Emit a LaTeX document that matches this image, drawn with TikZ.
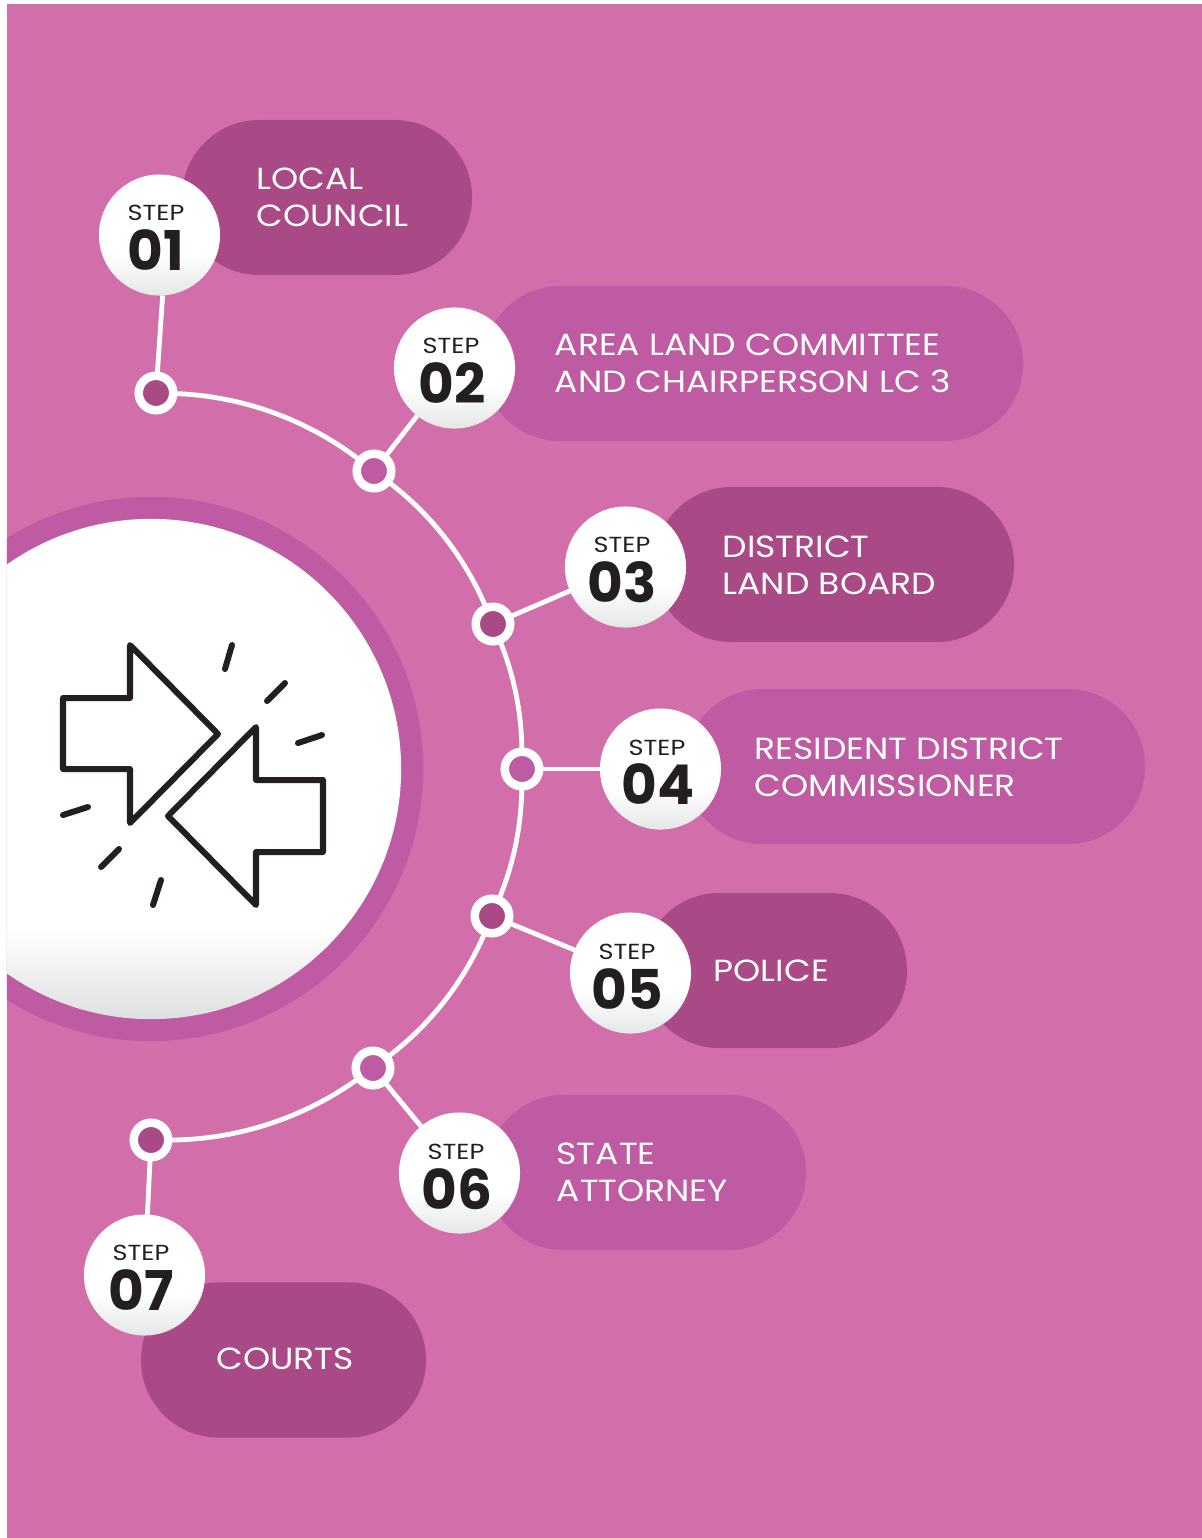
\documentclass[tikz,border=0pt]{standalone}
\usepackage{fontspec}
\setmainfont{Poppins}
\newfontfamily\pillfont{Poppins}[FakeStretch=1.13]
\newfontfamily\stepfont{Poppins}[FakeStretch=1.17]
\newfontfamily\numfont{Poppins Bold}
\usetikzlibrary{shadows}
\definecolor{fond}{HTML}{D26FAB}
\definecolor{sombre}{HTML}{A94986}
\definecolor{clair}{HTML}{BF5BA2}
\definecolor{encre}{HTML}{231F20}
\definecolor{voile}{HTML}{DEDFDF}
\definecolor{voilette}{HTML}{E5E6E6}
\pgfdeclareverticalshading{fadebig}{100bp}{color(0bp)=(voile); color(25bp)=(voile); color(34bp)=(white); color(100bp)=(white)}
\pgfdeclareverticalshading{fadeball}{100bp}{color(0bp)=(voilette); color(25bp)=(voilette); color(42bp)=(white); color(100bp)=(white)}
\tikzset{
    pill/.style={rounded corners=7.75mm,minimum height=1.55cm,inner sep=0pt},
    stepball/.style={circle,shading=fadeball,minimum size=1.21cm,inner sep=0pt,outer sep=0pt},
    steptitle/.style={text=encre,font=\stepfont\fontsize{6.2}{7}\selectfont,inner sep=0pt},
    stepnum/.style={text=encre,font=\numfont\fontsize{15.6}{17}\selectfont,inner sep=0pt},
    pilltext/.style={text=white,anchor=west,align=left,inner sep=0pt,font=\pillfont\fontsize{8.7}{10.5}\selectfont},
    dot/.style={circle,draw=white,line width=.85mm,minimum size=3.45mm,inner sep=0pt,outer sep=0pt,drop shadow={opacity=.18,shadow xshift=.4mm,shadow yshift=-.4mm}},
    link/.style={draw=white,line width=.48mm,looseness=.87},
    icon/.style={draw=encre,line width=.6mm,line join=round,line cap=round}
}
\begin{document}
\begin{tikzpicture}[x=.01cm,y=-.01cm]
    \useasboundingbox (0,0) rectangle (1202,1538);
    \fill[white] (0,0) rectangle (1202,1538);
    \fill[fond] (7,4) rectangle (1202,1538);
    \begin{scope}
        \clip (7,4) rectangle (1202,1538);
        \node[circle,fill=clair,minimum size=5.44cm,inner sep=0pt] (ring) at (151,769) {};
        \node[circle,shading=fadebig,minimum size=5cm,inner sep=0pt] (disc) at (151,769) {};
    \end{scope}
    \draw[icon] (63,698) -- (130,698) -- (130,645) -- (218,734) -- (130,823) -- (130,769) -- (63,769) -- cycle;
    \draw[icon] (323,780) -- (256,780) -- (256,727) -- (168,816) -- (256,905) -- (256,852) -- (323,852) -- cycle;
    \draw[icon] (232,645) -- (225,669);
    \draw[icon] (285,683) -- (267,701);
    \draw[icon] (322,735) -- (298,743);
    \draw[icon] (88,807) -- (63,815);
    \draw[icon] (119,849) -- (101,867);
    \draw[icon] (161,880) -- (153,905);

    \node[pill,fill=sombre,minimum width=2.9cm] (p1) at (327,197.5) {};
    \node[pill,fill=clair,minimum width=5.4cm] (p2) at (753,363.5) {};
    \node[pill,fill=sombre,minimum width=3.6cm] (p3) at (834,564.5) {};
    \node[pill,fill=clair,minimum width=4.6cm] (p4) at (915,766.5) {};
    \node[pill,fill=sombre,minimum width=2.65cm] (p5) at (774.5,970.5) {};
    \node[pill,fill=clair,minimum width=3.2cm] (p6) at (646,1172.5) {};
    \node[pill,fill=sombre,minimum width=2.85cm] (p7) at (283.5,1360) {};

    \node[pilltext] (l1) at (256,197) {LOCAL\\COUNCIL};
    \node[pilltext] (l2) at (554,363) {AREA LAND COMMITTEE\\AND CHAIRPERSON LC 3};
    \node[pilltext] (l3) at (722,565) {DISTRICT\\LAND BOARD};
    \node[pilltext] (l4) at (754,767) {RESIDENT DISTRICT\\COMMISSIONER};
    \node[pilltext] (l5) at (713,971) {POLICE};
    \node[pilltext] (l6) at (556,1172) {STATE\\ATTORNEY};
    \node[pilltext] (l7) at (216,1359) {COURTS};

    \node[dot,fill=sombre] (d1) at (156,393) {};
    \node[dot,fill=clair] (d2) at (374,471) {};
    \node[dot,fill=sombre] (d3) at (493,624) {};
    \node[dot,fill=clair] (d4) at (522,769) {};
    \node[dot,fill=sombre] (d5) at (492,916) {};
    \node[dot,fill=clair] (d6) at (373,1068) {};
    \node[dot,fill=sombre] (d7) at (151,1140) {};

    \node[stepball] (s1) at (159.5,235) {};
    \node[stepball] (s2) at (454.5,368) {};
    \node[stepball] (s3) at (625.5,567) {};
    \node[stepball] (s4) at (660.5,769) {};
    \node[stepball] (s5) at (630.5,973) {};
    \node[stepball] (s6) at (459.5,1173) {};
    \node[stepball] (s7) at (144.5,1275) {};

    \draw[link] (d1) -- (s1.273);
    \draw[link] (d2) -- (s2);
    \draw[link] (d3) -- (s3);
    \draw[link] (d4) -- (s4);
    \draw[link] (d5) -- (s5);
    \draw[link] (d6) -- (s6);
    \draw[link] (d7) -- (s7);

    \draw[link] (d1) to[bend left=18] (d2);
    \draw[link] (d2) to[bend left=15] (d3);
    \draw[link] (d3) to[bend left=11] (d4);
    \draw[link] (d4) to[bend left=11] (d5);
    \draw[link] (d5) to[bend left=15] (d6);
    \draw[link] (d6) to[bend left=18] (d7);

    \node[steptitle] (t1) at (156,212.5) {STEP};
    \node[stepnum] (n1) at (156,250) {01};
    \node[steptitle] (t2) at (451,345.5) {STEP};
    \node[stepnum] (n2) at (452,383) {02};
    \node[steptitle] (t3) at (622,544.5) {STEP};
    \node[stepnum] (n3) at (622,582) {03};
    \node[steptitle] (t4) at (657,747.5) {STEP};
    \node[stepnum] (n4) at (658,784) {04};
    \node[steptitle] (t5) at (627,951.5) {STEP};
    \node[stepnum] (n5) at (627,989) {05};
    \node[steptitle] (t6) at (456,1151.5) {STEP};
    \node[stepnum] (n6) at (457,1189) {06};
    \node[steptitle] (t7) at (141,1252.5) {STEP};
    \node[stepnum] (n7) at (141,1290) {07};
\end{tikzpicture}
\end{document}
